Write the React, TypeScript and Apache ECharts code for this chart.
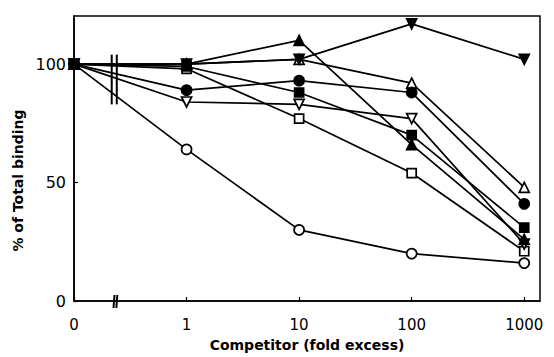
import React, { useEffect, useRef } from "react";
import * as echarts from "echarts";

// x positions (evenly spaced decades, with 0 at the origin)
const xPositions = [0, 1, 2, 3, 4];
const xTickLabels = ["0", "1", "10", "100", "1000"];
const yTickValues = [0, 50, 100];

// % of total binding per competitor
const openCircle = [100, 64, 30, 20, 16];
const openSquare = [100, 98, 77, 54, 21];
const filledSquare = [100, 99, 88, 70, 31];
const filledTriangle = [100, 100, 110, 66, 26];
const filledInvTriangle = [100, 100, 102, 117, 102];
const openTriangle = [100, 100, 102, 92, 48];
const filledCircle = [100, 89, 93, 88, 41];
const openInvTriangle = [100, 84, 83, 77, 24];

const seriesDefs = [
  { name: "openCircle", values: openCircle, symbol: "circle", rotate: 0, filled: false },
  { name: "openSquare", values: openSquare, symbol: "rect", rotate: 0, filled: false },
  { name: "openInvTriangle", values: openInvTriangle, symbol: "triangle", rotate: 180, filled: false },
  { name: "openTriangle", values: openTriangle, symbol: "triangle", rotate: 0, filled: false },
  { name: "filledCircle", values: filledCircle, symbol: "circle", rotate: 0, filled: true },
  { name: "filledSquare", values: filledSquare, symbol: "rect", rotate: 0, filled: true },
  { name: "filledTriangle", values: filledTriangle, symbol: "triangle", rotate: 0, filled: true },
  { name: "filledInvTriangle", values: filledInvTriangle, symbol: "triangle", rotate: 180, filled: true },
];

// axis break location (in x data units) and extent of the break bars over the lines (y units)
const breakX = [0.335, 0.38];
const breakY = [104, 83];
const axisBreakX = [0.36, 0.385];

export default function App() {
  const ref = useRef<HTMLDivElement>(null);
  useEffect(() => {
    if (!ref.current) return;
    const chart = echarts.init(ref.current, undefined, { renderer: "svg" });
    const font = "DejaVu Sans";
    chart.setOption({
      animation: false,
      backgroundColor: "#ffffff",
      grid: {
        left: 74,
        right: 14,
        top: 16,
        bottom: 51,
        show: true,
        borderColor: "#000",
        borderWidth: 1.5,
        backgroundColor: "transparent",
      },
      xAxis: {
        type: "value",
        min: 0,
        max: 4.14,
        interval: 1,
        name: "Competitor (fold excess)",
        nameLocation: "middle",
        nameGap: 37,
        nameTextStyle: { fontFamily: font, fontSize: 14, fontWeight: "bold", color: "#000" },
        axisLine: { lineStyle: { color: "#000", width: 1.5 } },
        axisTick: {
          inside: true,
          length: 4,
          lineStyle: { color: "#000", width: 1.2 },
        },
        axisLabel: {
          fontFamily: font,
          fontSize: 15,
          color: "#000",
          margin: 16,
          showMaxLabel: false,
          formatter: (v: number) => (Number.isInteger(v) && xTickLabels[v] !== undefined ? xTickLabels[v] : ""),
        },
        splitLine: { show: false },
      },
      yAxis: {
        type: "value",
        min: 0,
        max: 120.3,
        interval: 50,
        name: "% of Total binding",
        nameLocation: "middle",
        nameGap: 44,
        nameRotate: 90,
        nameTextStyle: {
          fontFamily: font,
          fontSize: 14,
          fontWeight: "bold",
          color: "#000",
          padding: [0, 44, 0, 0],
        },
        axisLine: { show: true, lineStyle: { color: "#000", width: 1.5 } },
        axisTick: {
          show: true,
          inside: true,
          length: 4,
          lineStyle: { color: "#000", width: 1.2 },
        },
        axisLabel: {
          fontFamily: font,
          fontSize: 16,
          color: "#000",
          margin: 8,
          showMaxLabel: false,
          formatter: (v: number) => (yTickValues.includes(v) ? String(v) : ""),
        },
        splitLine: { show: false },
      },
      series: seriesDefs.map((s) => ({
        name: s.name,
        type: "line",
        data: s.values.map((v, i) => [xPositions[i], v]),
        symbol: s.symbol,
        symbolRotate: s.rotate,
        symbolSize: s.symbol === "rect" ? 9 : 10,
        showSymbol: true,
        lineStyle: { color: "#000", width: 1.7 },
        itemStyle: {
          color: s.filled ? "#000" : "#fff",
          borderColor: "#000",
          borderWidth: 1.7,
        },
        z: s.filled ? 3 : 2,
      })),
    });

    const px = (x: number, y: number) => chart.convertToPixel({ gridIndex: 0 }, [x, y]) as number[];
    const graphics: any[] = [];
    breakX.forEach((bx) => {
      const a = px(bx, breakY[0]);
      const b = px(bx, breakY[1]);
      graphics.push({
        type: "line",
        shape: { x1: a[0], y1: a[1], x2: b[0], y2: b[1] },
        style: { stroke: "#000", lineWidth: 2 },
        z: 10,
      });
    });
    axisBreakX.forEach((bx) => {
      const a = px(bx, 0);
      graphics.push({
        type: "line",
        shape: { x1: a[0], y1: a[1] - 6, x2: a[0] - 1, y2: a[1] + 7 },
        style: { stroke: "#000", lineWidth: 2 },
        z: 10,
      });
    });
    chart.setOption({ graphic: graphics });

    return () => chart.dispose();
  }, []);
  return <div ref={ref} style={{ width: 554, height: 357, position: "absolute", left: 0, top: 0 }} />;
}
